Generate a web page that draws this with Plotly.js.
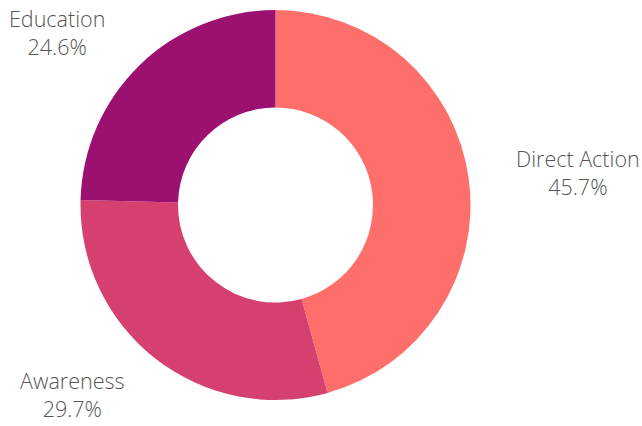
<!DOCTYPE html>
<html>
<head>
<meta charset="utf-8">
<script src="https://cdn.plot.ly/plotly-3.0.1.min.js"></script>
<style>html,body{margin:0;padding:0;background:#fff;}#chart{width:642px;height:426px;}</style>
</head>
<body>
<div id="chart"></div>
<script>
const labels = ["Direct Action", "Awareness", "Education"];
const values = [45.7, 29.7, 24.6];
const colors = ["#fe6e6b", "#d6406f", "#9c1170"];

const W = 642, H = 426;
const dom = {x: [80 / W, 471 / W], y: [26 / H, 416 / H]};
const cx = (dom.x[0] + dom.x[1]) / 2 * W;
const cy = H - (dom.y[0] + dom.y[1]) / 2 * H;
const labelR = 241;

const total = values.reduce((a, b) => a + b, 0);
let cum = 0;
const annotations = values.map((v, i) => {
  const mid = (cum + v / 2) / total * 2 * Math.PI;
  cum += v;
  const s = Math.sin(mid), c = Math.cos(mid);
  const px = cx + labelR * s;
  const py = cy - labelR * c;
  return {
    xref: "paper", yref: "paper",
    x: px / W, y: 1 - py / H,
    xanchor: s >= 0 ? "left" : "right",
    yanchor: "middle",
    align: "center",
    showarrow: false,
    text: labels[i] + "<br>" + (v / total * 100).toFixed(1) + "%",
    font: {family: "Open Sans", size: 21.5, color: "#555", weight: 300}
  };
});

const data = [{
  type: "pie",
  labels: labels,
  values: values,
  hole: 0.5,
  sort: false,
  direction: "clockwise",
  rotation: 0,
  marker: {colors: colors, line: {width: 0}},
  textinfo: "none",
  hoverinfo: "none",
  automargin: false,
  domain: dom
}];
const layout = {
  width: W, height: H,
  margin: {l: 0, r: 0, t: 0, b: 0},
  showlegend: false,
  paper_bgcolor: "#fff",
  font: {family: "Open Sans", color: "#555"},
  annotations: annotations
};
Plotly.newPlot("chart", data, layout, {displayModeBar: false, staticPlot: true});
</script>
</body>
</html>
